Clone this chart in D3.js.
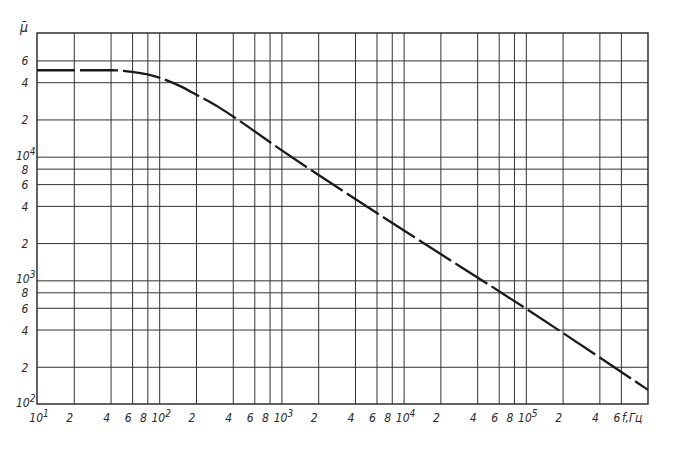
<!DOCTYPE html>
<html>
<head>
<meta charset="utf-8">
<script src="https://cdn.jsdelivr.net/npm/d3@7"></script>
<style>
  html, body { margin: 0; padding: 0; background: #fff; }
  svg { display: block; }
  text { font-family: "DejaVu Sans Condensed", "DejaVu Sans", sans-serif; font-style: italic; fill: #2a2a2a; }
</style>
</head>
<body>
<svg id="chart" width="692" height="453"></svg>
<script>
// ---- data ----
const freq = [10, 40, 60, 80, 100, 150, 200, 300, 400, 1000, 10000, 100000, 1000000];
const mu   = [50000, 50000, 48500, 46200, 43500, 37000, 31800, 25500, 21200, 11300, 2540, 592, 130];

const xGrid = [20, 40, 60, 80, 100, 200, 400, 600, 800, 1000, 2000, 4000, 6000, 8000, 10000, 20000, 40000, 60000, 80000, 100000, 200000, 400000, 600000];
const yGrid = [200, 400, 600, 800, 1000, 2000, 4000, 6000, 8000, 10000, 20000, 40000, 60000];

const xTickVals = [10, 20, 40, 60, 80, 100, 200, 400, 600, 800, 1000, 2000, 4000, 6000, 8000, 10000, 20000, 40000, 60000, 80000, 100000, 200000, 400000, 600000];
const yTickVals = [100, 200, 400, 600, 800, 1000, 2000, 4000, 6000, 8000, 10000, 20000, 40000, 60000];

const xDomain = [10, 1000000];
const yDomain = [100, 100000];
const xUnitLabel = "f,Гц";
const yAxisLabel = "μ\u0304";

// ---- layout ----
const mLeft = 37, mRight = 648, mTop = 33, mBottom = 404;
const svg = d3.select("#chart");

const x = d3.scaleLog().domain(xDomain).range([mLeft, mRight]);
const y = d3.scaleLog().domain(yDomain).range([mBottom, mTop]);

const gridColor = "#333";

// vertical grid via axis
const gx = svg.append("g")
  .attr("transform", `translate(0,${mBottom})`)
  .call(d3.axisBottom(x).tickValues(xGrid).tickSize(-(mBottom - mTop)).tickFormat(""));
gx.select(".domain").remove();
gx.selectAll(".tick line").attr("stroke", gridColor).attr("stroke-width", 1);

// horizontal grid via axis
const gy = svg.append("g")
  .attr("transform", `translate(${mLeft},0)`)
  .call(d3.axisLeft(y).tickValues(yGrid).tickSize(-(mRight - mLeft)).tickFormat(""));
gy.select(".domain").remove();
gy.selectAll(".tick line").attr("stroke", gridColor).attr("stroke-width", 1);

// frame
svg.append("rect")
  .attr("x", x(xDomain[0])).attr("y", y(yDomain[1]))
  .attr("width", x(xDomain[1]) - x(xDomain[0]))
  .attr("height", y(yDomain[0]) - y(yDomain[1]))
  .attr("fill", "none").attr("stroke", "#222").attr("stroke-width", 1.4);

// curve
const line = d3.line()
  .x((d, i) => x(freq[i]))
  .y((d, i) => y(mu[i]))
  .curve(d3.curveMonotoneX);

svg.append("path")
  .datum(freq)
  .attr("d", line)
  .attr("fill", "none")
  .attr("stroke", "#1a1a1a")
  .attr("stroke-width", 2.3)
  .attr("stroke-dasharray", "38,5");

// tick labels
function isPow10(v) { const e = Math.log10(v); return Math.abs(e - Math.round(e)) < 1e-9; }

const fs = 12;
// x labels
xTickVals.forEach(v => {
  const px = x(v);
  if (isPow10(v)) {
    const e = Math.round(Math.log10(v));
    const t = svg.append("text").attr("x", px + 2).attr("y", 422).attr("text-anchor", "middle").attr("font-size", fs);
    t.append("tspan").text("10");
    t.append("tspan").attr("dy", -5).attr("font-size", 10).text(String(e));
  } else {
    const m = Math.round(v / Math.pow(10, Math.floor(Math.log10(v))));
    svg.append("text").attr("x", px - 4).attr("y", 422).attr("text-anchor", "middle").attr("font-size", fs).text(String(m));
  }
});
// f,Гц label at the 8e5 position
svg.append("text").attr("x", x(800000) - 4).attr("y", 422).attr("text-anchor", "middle").attr("font-size", fs).text(xUnitLabel);

// y labels
yTickVals.forEach(v => {
  const py = y(v);
  if (isPow10(v)) {
    const e = Math.round(Math.log10(v));
    const t = svg.append("text").attr("x", 16).attr("y", py + 3).attr("text-anchor", "start").attr("font-size", fs);
    t.append("tspan").text("10");
    t.append("tspan").attr("dy", -5).attr("font-size", 10).text(String(e));
  } else {
    const m = Math.round(v / Math.pow(10, Math.floor(Math.log10(v))));
    svg.append("text").attr("x", 25).attr("y", py + 5).attr("text-anchor", "middle").attr("font-size", fs).text(String(m));
  }
});

// axis title
svg.append("text").attr("x", 24).attr("y", 32).attr("text-anchor", "middle").attr("font-size", 14).text(yAxisLabel);
</script>
</body>
</html>
